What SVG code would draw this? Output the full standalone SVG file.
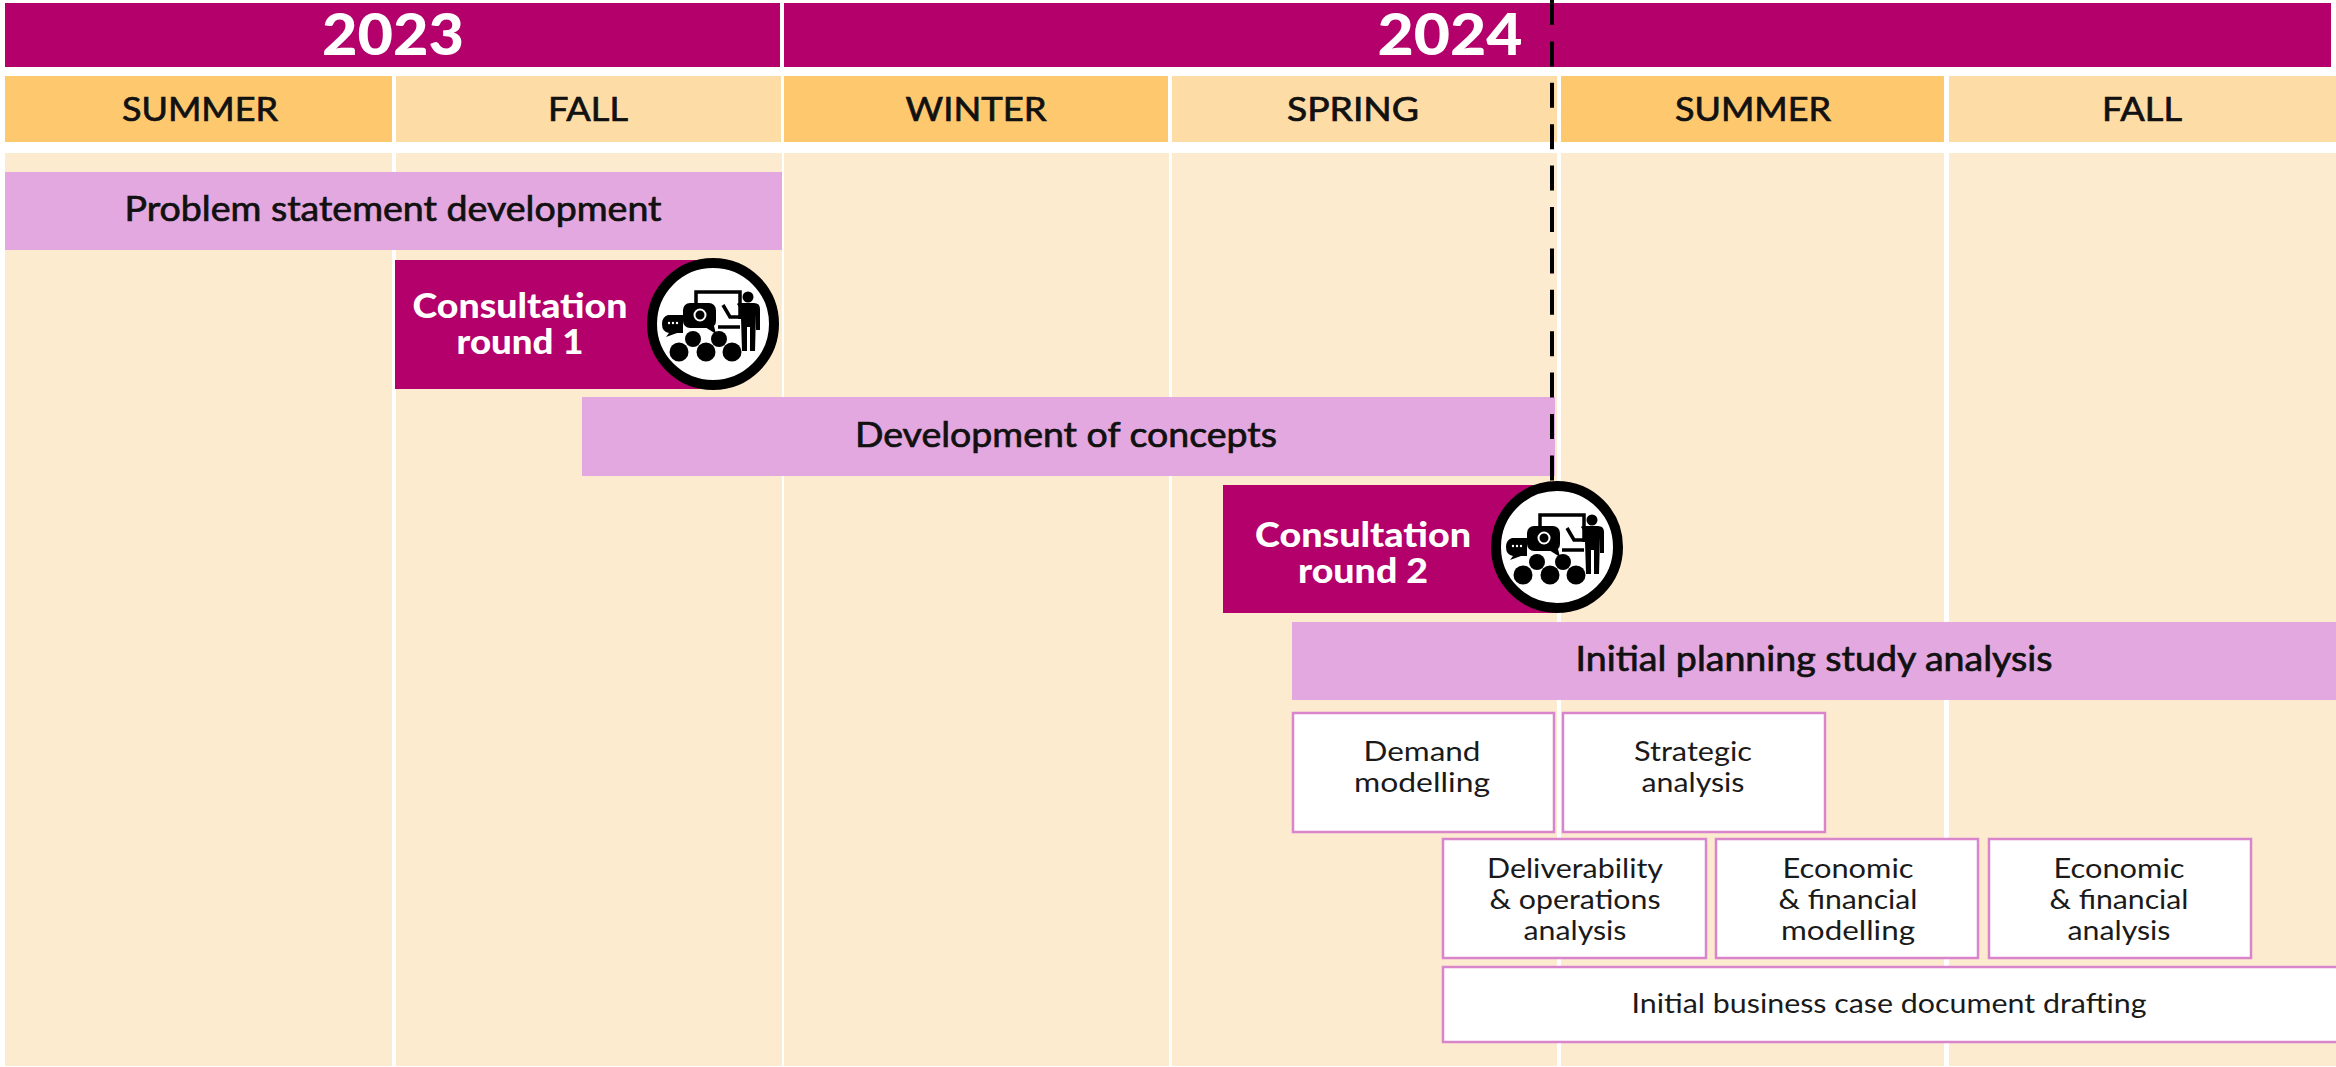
<svg xmlns="http://www.w3.org/2000/svg" width="2336" height="1067" viewBox="0 0 2336 1067">
<style>
text{font-family:"Lato","Noto Sans",sans-serif;text-anchor:middle}
.yr{fill:#b3006b}.s1{fill:#fec86f}.s2{fill:#fedca6}.col{fill:#fdebcf}
.bar{fill:#e3a8df}.con{fill:#b3006b}
.box{fill:#fff;stroke:#d985cc;stroke-width:2.5}
.yt{font-size:57px;font-weight:900;fill:#fff}
.st{font-size:33px;fill:#111;stroke:#111;stroke-width:.7px}
.bt{font-size:34px;fill:#111;stroke:#111;stroke-width:.7px}
.ct{font-size:35px;font-weight:900;fill:#fff}
.xt{font-size:27px;fill:#1a1a1a}
</style>
<defs>
<g id="icon">
<circle r="61" fill="#fff" stroke="#000" stroke-width="10"/>
<path d="M-17-14V-32H27V-5" fill="none" stroke="#000" stroke-width="3.5"/>
<path d="M10-19L17-7H27M5 3H27" fill="none" stroke="#000" stroke-width="3.5"/>
<circle cx="35" cy="-27" r="5.5"/>
<path d="M24-20Q24-21 30-21H41Q47-21 47-15V6H43V-10L42 27H37V3H34V27H29L28-6V-14Z"/>
<rect x="-30" y="-21" width="33" height="25" rx="7"/>
<path d="M-8 3L3 10L1 2Z"/>
<circle cx="-13" cy="-9" r="5.5" fill="none" stroke="#fff" stroke-width="2"/>
<path d="M-45-9H-30V9H-36L-47 13L-44 9Q-51 8-51 0Q-51-7-45-9Z"/>
<circle cx="-44" cy="-1" r="1.2" fill="#fff"/><circle cx="-40" cy="-1" r="1.2" fill="#fff"/><circle cx="-36" cy="-1" r="1.2" fill="#fff"/>
<circle cx="-20" cy="15" r="8"/><circle cx="6" cy="15" r="8"/>
<circle cx="-34" cy="28" r="9.5"/><circle cx="-7" cy="28" r="9.5"/><circle cx="19" cy="28" r="9.5"/>
</g>
</defs>
<g id="year-2023"><rect class="yr" x="5" y="3" width="775" height="64"/><text class="yt" x="393" y="55" textLength="142" lengthAdjust="spacingAndGlyphs">2023</text></g>
<g id="year-2024"><rect class="yr" x="784" y="3" width="1547" height="64"/><text class="yt" x="1450" y="55" textLength="145" lengthAdjust="spacingAndGlyphs">2024</text></g>
<g id="columns">
<rect class="col" x="5" y="153" width="387" height="913"/><rect class="col" x="396" y="153" width="386" height="913"/><rect class="col" x="784" y="153" width="385" height="913"/><rect class="col" x="1172" y="153" width="385" height="913"/><rect class="col" x="1561" y="153" width="383" height="913"/><rect class="col" x="1949" y="153" width="387" height="913"/>
</g>
<g id="season-summer-2023"><rect class="s1" x="5" y="76" width="387" height="66"/><text class="st" x="200" y="121" textLength="156" lengthAdjust="spacingAndGlyphs">SUMMER</text></g>
<g id="season-fall-2023"><rect class="s2" x="396" y="76" width="385" height="66"/><text class="st" x="588" y="121" textLength="80" lengthAdjust="spacingAndGlyphs">FALL</text></g>
<g id="season-winter-2024"><rect class="s1" x="784" y="76" width="384" height="66"/><text class="st" x="976" y="121" textLength="141" lengthAdjust="spacingAndGlyphs">WINTER</text></g>
<g id="season-spring-2024"><rect class="s2" x="1172" y="76" width="385" height="66"/><text class="st" x="1353" y="121" textLength="132" lengthAdjust="spacingAndGlyphs">SPRING</text></g>
<g id="season-summer-2024"><rect class="s1" x="1561" y="76" width="383" height="66"/><text class="st" x="1753" y="121" textLength="156" lengthAdjust="spacingAndGlyphs">SUMMER</text></g>
<g id="season-fall-2024"><rect class="s2" x="1949" y="76" width="387" height="66"/><text class="st" x="2142" y="121" textLength="80" lengthAdjust="spacingAndGlyphs">FALL</text></g>
<g id="problem-statement"><rect class="bar" x="5" y="172" width="777" height="78"/><text class="bt" x="393" y="221" textLength="537" lengthAdjust="spacingAndGlyphs">Problem statement development</text></g>
<g id="development-of-concepts"><rect class="bar" x="582" y="397" width="973" height="79"/><text class="bt" x="1066" y="447" textLength="422" lengthAdjust="spacingAndGlyphs">Development of concepts</text></g>
<g id="initial-planning"><rect class="bar" x="1292" y="622" width="1044" height="78"/><text class="bt" x="1814" y="671" textLength="477" lengthAdjust="spacingAndGlyphs">Initial planning study analysis</text></g>
<g id="connectors"><path d="M1552 0V482" fill="none" stroke="#000" stroke-width="4" stroke-dasharray="25 16.4"/></g>
<g id="consultation-1"><rect class="con" x="395" y="260" width="320" height="129"/><use href="#icon" x="713" y="324"/><text class="ct" x="520" y="318" textLength="215" lengthAdjust="spacingAndGlyphs">Consultation</text><text class="ct" x="520" y="354" textLength="127" lengthAdjust="spacingAndGlyphs">round 1</text></g>
<g id="consultation-2"><rect class="con" x="1223" y="485" width="334" height="128"/><use href="#icon" x="1557" y="547"/><text class="ct" x="1363" y="547" textLength="216" lengthAdjust="spacingAndGlyphs">Consultation</text><text class="ct" x="1363" y="583" textLength="130" lengthAdjust="spacingAndGlyphs">round 2</text></g>
<g id="demand"><rect class="box" x="1293" y="713" width="261" height="119"/><text class="xt" x="1422" y="761" textLength="117" lengthAdjust="spacingAndGlyphs">Demand</text><text class="xt" x="1422" y="792" textLength="136" lengthAdjust="spacingAndGlyphs">modelling</text></g>
<g id="strategic"><rect class="box" x="1563" y="713" width="262" height="119"/><text class="xt" x="1693" y="761" textLength="118" lengthAdjust="spacingAndGlyphs">Strategic</text><text class="xt" x="1693" y="792" textLength="103" lengthAdjust="spacingAndGlyphs">analysis</text></g>
<g id="deliverability"><rect class="box" x="1443" y="839" width="263" height="119"/><text class="xt" x="1575" y="878" textLength="176" lengthAdjust="spacingAndGlyphs">Deliverability</text><text class="xt" x="1575" y="909" textLength="171" lengthAdjust="spacingAndGlyphs">&amp; operations</text><text class="xt" x="1575" y="940" textLength="103" lengthAdjust="spacingAndGlyphs">analysis</text></g>
<g id="economic-modelling"><rect class="box" x="1716" y="839" width="262" height="119"/><text class="xt" x="1848" y="878" textLength="131" lengthAdjust="spacingAndGlyphs">Economic</text><text class="xt" x="1848" y="909" textLength="139" lengthAdjust="spacingAndGlyphs">&amp; financial</text><text class="xt" x="1848" y="940" textLength="134" lengthAdjust="spacingAndGlyphs">modelling</text></g>
<g id="economic-analysis"><rect class="box" x="1989" y="839" width="262" height="119"/><text class="xt" x="2119" y="878" textLength="131" lengthAdjust="spacingAndGlyphs">Economic</text><text class="xt" x="2119" y="909" textLength="139" lengthAdjust="spacingAndGlyphs">&amp; financial</text><text class="xt" x="2119" y="940" textLength="103" lengthAdjust="spacingAndGlyphs">analysis</text></g>
<g id="business-case"><rect class="box" x="1443" y="967" width="895" height="75"/><text class="xt" x="1889" y="1013" textLength="515" lengthAdjust="spacingAndGlyphs">Initial business case document drafting</text></g>
</svg>
